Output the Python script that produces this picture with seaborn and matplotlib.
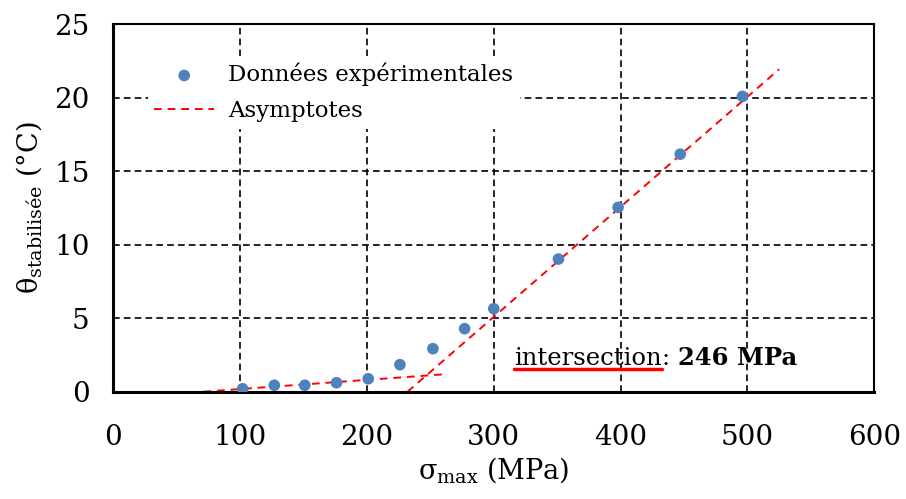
import numpy as np
import pandas as pd
import seaborn as sns
import matplotlib.pyplot as plt
from matplotlib.lines import Line2D

# --- DATI ---
sigma_max = [102, 127, 151, 176, 201, 226, 252, 277, 300, 351, 398, 447, 496]
theta_stab = [0.2, 0.44, 0.44, 0.61, 0.88, 1.84, 2.93, 4.29, 5.65, 9.03, 12.55, 16.17, 20.1]

# asymptotes (extrémités)
asym1_x = [71, 263]
asym1_y = [0.0, 1.2]
asym2_x = [232, 525]
asym2_y = [0.0, 21.95]

x_ticks = [0, 100, 200, 300, 400, 500, 600]
y_ticks = [0, 5, 10, 15, 20, 25]

# --- STYLE ---
sns.set_style('white')
plt.rcParams['font.family'] = ['DejaVu Serif']
plt.rcParams['mathtext.fontset'] = 'custom'
plt.rcParams['mathtext.rm'] = 'DejaVu Serif'
plt.rcParams['mathtext.it'] = 'DejaVu Serif:italic'
plt.rcParams['mathtext.bf'] = 'DejaVu Serif:bold'
for k in ['text.color', 'axes.labelcolor', 'xtick.color', 'ytick.color']:
    plt.rcParams[k] = 'black'

bleu = '#4F81BD'

fig = plt.figure(figsize=(9.06, 4.99), dpi=100)
ax = fig.add_axes([0.125, 0.215, 0.84, 0.736])

df_pts = pd.DataFrame({'sigma': sigma_max, 'theta': theta_stab})
sns.scatterplot(data=df_pts, x='sigma', y='theta', ax=ax, color=bleu, s=70,
                edgecolor='none', zorder=3, label='Données expérimentales')

df_a1 = pd.DataFrame({'x': asym1_x, 'y': asym1_y})
df_a2 = pd.DataFrame({'x': asym2_x, 'y': asym2_y})
sns.lineplot(data=df_a1, x='x', y='y', ax=ax, color='red', lw=1.4,
             linestyle=(0, (4, 3)), zorder=2, label='Asymptotes')
sns.lineplot(data=df_a2, x='x', y='y', ax=ax, color='red', lw=1.4,
             linestyle=(0, (4, 3)), zorder=2)

ax.set_xlim(0, 600)
ax.set_ylim(0, 25)
ax.set_xticks(x_ticks)
ax.set_yticks(y_ticks)
ax.grid(True, color='black', linestyle=(0, (4, 2.5)), lw=1.2)
ax.set_axisbelow(True)
for s in ax.spines.values():
    s.set_color('black')
    s.set_linewidth(1.5)
ax.spines['left'].set_linewidth(2.2)
ax.spines['bottom'].set_linewidth(2.2)
ax.tick_params(axis='both', length=0, labelsize=20)
ax.tick_params(axis='x', pad=23)
ax.tick_params(axis='y', pad=17)

ax.set_xlabel('σ$_{\\mathrm{max}}$ (MPa)', fontsize=19.5, labelpad=3)
ax.set_ylabel('θ$_{\\mathrm{stabilisée}}$ (°C)', fontsize=19.5, labelpad=7)

leg = ax.legend(loc='upper left', bbox_to_anchor=(0.03, 0.945), fontsize=16.5,
                frameon=True, facecolor='white', edgecolor='none', framealpha=1,
                handlelength=2.6, handletextpad=0.6, borderpad=0.3, labelspacing=0.6)
leg.get_frame().set_boxstyle('square', pad=0.0)

# --- annotation "intersection: 246 MPa" ---
t1 = ax.text(316, 1.8, 'intersection', fontsize=17.5, va='baseline', ha='left')
t2 = ax.annotate(': ', xy=(1, 0), xycoords=t1, fontsize=17.5, va='bottom', ha='left')
t3 = ax.annotate('246 MPa', xy=(1, 0), xycoords=t2, fontsize=17.5,
                 fontweight='bold', va='bottom', ha='left')
fig.canvas.draw()
bb = t1.get_window_extent()
inv = fig.transFigure.inverted()
(x0, y0) = inv.transform((bb.x0, bb.y0 + 1))
(x1, _) = inv.transform((bb.x1, bb.y0 + 1))
fig.add_artist(Line2D([x0, x1], [y0, y0], color='red', lw=2.5))

fig.savefig('out.png', dpi=100)
